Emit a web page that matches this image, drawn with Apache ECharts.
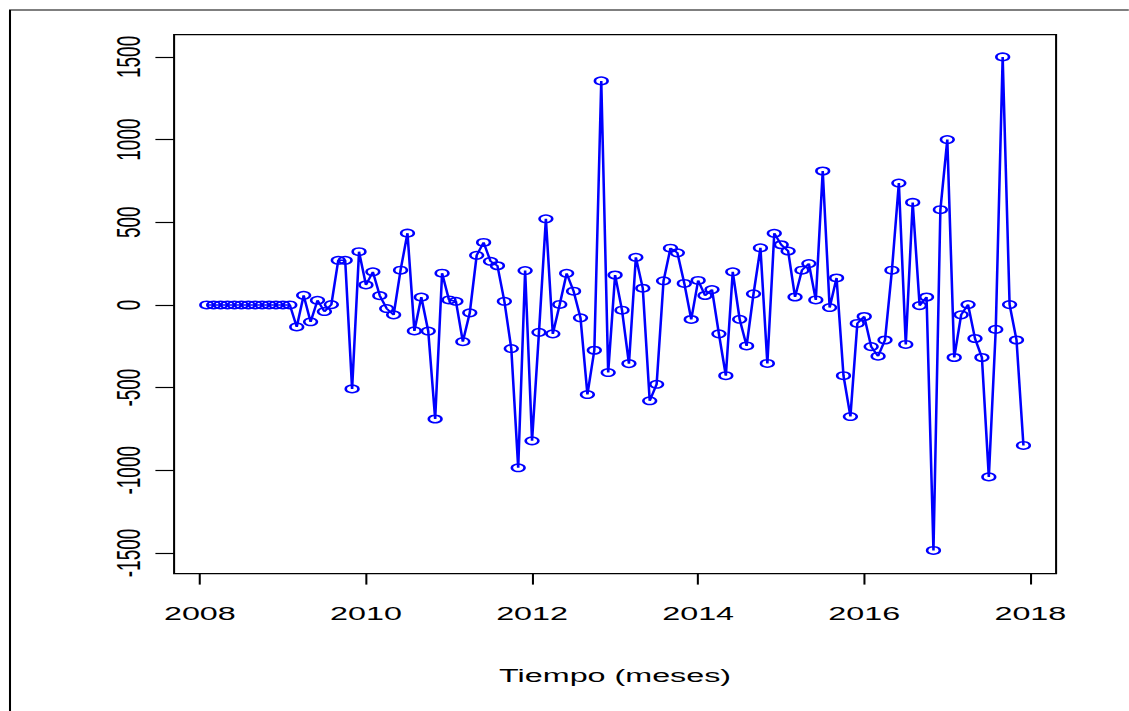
<!DOCTYPE html>
<html>
<head>
<meta charset="utf-8">
<script src="https://cdn.jsdelivr.net/npm/echarts@6/dist/echarts.min.js"></script>
<style>
  html, body { margin: 0; padding: 0; background: #fff; overflow: hidden; width: 1129px; height: 711px; }
  #chart { position: absolute; left: 0; top: 0; width: 664.1px; height: 711px; transform: scaleX(1.7); transform-origin: 0 0; }
</style>
</head>
<body>
<div id="chart"></div>
<script>
// Monthly series starting Feb 2008
const startYear = 2008;
const startMonth = 2;
const values = [
  0, 0, 0, 0, 0, 0, 0, 0, 0, 0, 0, 0, 0,
  -133, 58, -102, 28, -40, 2, 270, 270, -508, 322, 121, 200, 56, -22, -60, 210, 434,
  -157, 47, -158, -690, 192, 30, 22, -222, -48, 300, 378, 264, 237, 22, -264, -985,
  208, -822, -166, 521, -175, 3, 191, 83, -78, -542, -274, 1355, -409, 181, -32, -355,
  288, 101, -580, -480, 146, 343, 315, 130, -88, 148, 57, 93, -175, -428, 200, -87,
  -248, 67, 345, -354, 433, 364, 326, 48, 210, 250, 30, 810, -16, 163, -428, -675,
  -112, -70, -252, -310, -212, 210, 737, -239, 620, -4, 48, -1485, 576, 1000, -318,
  -60, 2, -203, -318, -1040, -148, 1500, 2, -212, -850
];
const xTicks = [2008, 2010, 2012, 2014, 2016, 2018];
const yTicks = [-1500, -1000, -500, 0, 500, 1000, 1500];
const xTitle = 'Tiempo (meses)';

const sx = 1.7;
const data = values.map((v, i) => [startYear + (startMonth - 1 + i) / 12, v]);

const FONT = '"Liberation Sans", Arial, sans-serif';
const chart = echarts.init(document.getElementById('chart'), null, { renderer: 'svg' });
chart.setOption({
  animation: false,
  backgroundColor: '#ffffff',
  graphic: [{
    type: 'rect',
    shape: { x: 10 / sx, y: 10, width: 2000, height: 2000 },
    style: { fill: 'none', stroke: '#000', lineWidth: 1.2 },
    silent: true
  }],
  grid: {
    left: 174.1 / sx,
    top: 34.6,
    width: 882 / sx,
    height: 539,
    show: true,
    borderColor: '#000',
    borderWidth: 1.2,
    backgroundColor: 'transparent',
    containLabel: false,
    outerBoundsMode: 'none'
  },
  xAxis: {
    type: 'value',
    min: 2007.69,
    max: 2018.31,
    name: xTitle,
    nameLocation: 'middle',
    nameGap: 92,
    nameTextStyle: { color: '#000', fontSize: 19, fontFamily: FONT },
    axisLine: { show: false, onZero: false },
    splitLine: { show: false },
    axisTick: { show: true, customValues: xTicks, length: 11, lineStyle: { color: '#000', width: 1.2 } },
    axisLabel: {
      show: true, customValues: xTicks, margin: 30,
      color: '#000', fontSize: 19, fontFamily: FONT,
      formatter: v => String(v)
    }
  },
  yAxis: {
    type: 'value',
    min: -1625,
    max: 1635,
    axisLine: { show: false, onZero: false },
    splitLine: { show: false },
    axisTick: { show: true, customValues: yTicks, length: 11, lineStyle: { color: '#000', width: 1.2 } },
    axisLabel: {
      show: true, customValues: yTicks, rotate: 90, margin: 17,
      color: '#000', fontSize: 19, fontFamily: FONT,
      formatter: v => String(v)
    }
  },
  series: [{
    type: 'line',
    data: data,
    color: '#0000ff',
    symbol: 'circle',
    symbolSize: 7.5,
    showAllSymbol: true,
    lineStyle: { color: '#0000ff', width: 1.5 },
    itemStyle: { color: 'rgba(0,0,0,0)', borderColor: '#0000ff', borderWidth: 1.5 },
    emphasis: { disabled: true }
  }]
});
</script>
</body>
</html>
